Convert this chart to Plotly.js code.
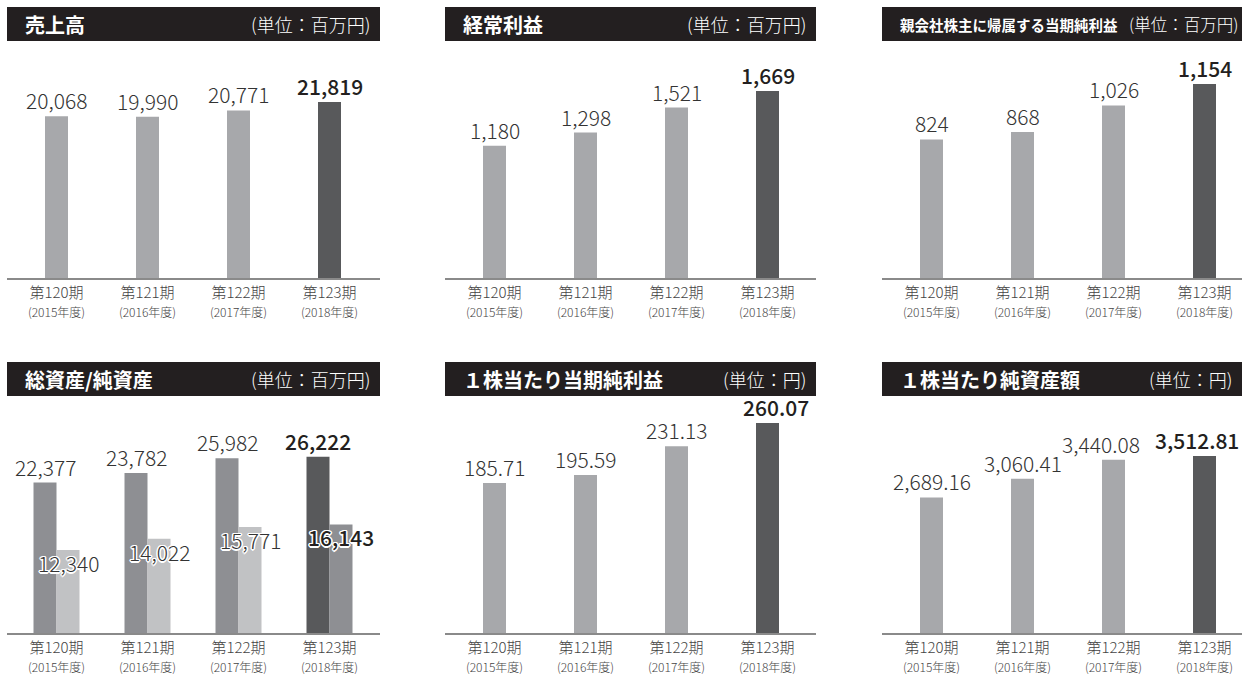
<!DOCTYPE html>
<html>
<head>
<meta charset="utf-8">
<script src="https://cdn.plot.ly/plotly-3.0.1.min.js"></script>
<style>
html,body{margin:0;padding:0;background:#fff;}
#chart{width:1242px;height:677px;}
</style>
</head>
<body>
<div id="chart"></div>
<script>
// ---- data ----
const periods = ['第120期', '第121期', '第122期', '第123期'];
const fiscalYears = ['(2015年度)', '(2016年度)', '(2017年度)', '(2018年度)'];
const sales = [20068, 19990, 20771, 21819];
const ordinaryIncome = [1180, 1298, 1521, 1669];
const netIncomeParent = [824, 868, 1026, 1154];
const totalAssets = [22377, 23782, 25982, 26222];
const netAssets = [12340, 14022, 15771, 16143];
const epsValues = [185.71, 195.59, 231.13, 260.07];
const bpsValues = [2689.16, 3060.41, 3440.08, 3512.81];

const panelTitles = ['売上高', '経常利益', '親会社株主に帰属する当期純利益', '総資産/純資産', '１株当たり当期純利益', '１株当たり純資産額'];
const panelUnits = ['(単位：百万円)', '(単位：百万円)', '(単位：百万円)', '(単位：百万円)', '(単位：円)', '(単位：円)'];

// ---- layout helpers ----
const W = 1242, H = 677;
const FONT = "'Noto Sans CJK JP', 'Noto Sans', sans-serif";
const LIGHT = '#a7a8ab', DARK = '#58595b', MID = '#8e8f93', PALE = '#c1c2c4';
const TXT = '#333333', TXTB = '#231f20';
const px = v => v / W;
const py = v => 1 - v / H;

// panel geometry in pixels
const cols = [
  {x0: 7, x1: 380, c0: 56.5},
  {x0: 445, x1: 816, c0: 494.5},
  {x0: 882, x1: 1242, c0: 931.5}
];
const rows = [
  {hTop: 7, hBot: 41, top: 48, base: 278},
  {hTop: 362, hBot: 396, top: 403, base: 633}
];
const STEP = 91;
const BARW = 23 / STEP;
// horizontal nudges (px) of value labels, per panel
const labelNudge = {4: [0, 0, 0, 8], 5: [0, 0, -13, -8]};

const fmt = (v, d) => v.toLocaleString('en-US', {minimumFractionDigits: d, maximumFractionDigits: d});
const tickText = periods.map((p, i) => p + '<br><span style="font-size:12px">' + fiscalYears[i] + '</span>');

// y-range maxima chosen so that bars match scale
const yMax = [28514, 2053, 1368, 34210, 284.8, 4564];

const data = [];
const layout = {
  width: W, height: H,
  margin: {l: 0, r: 0, t: 0, b: 0},
  paper_bgcolor: '#fff', plot_bgcolor: 'rgba(0,0,0,0)',
  showlegend: false,
  barmode: 'overlay',
  font: {family: FONT, color: TXT},
  shapes: [], annotations: []
};

function colorsFor(n, normal, last) { return Array.from({length: n}, (_, i) => i === n - 1 ? last : normal); }

for (let k = 0; k < 6; k++) {
  const col = cols[k % 3], row = rows[Math.floor(k / 3)];
  const ax = k === 0 ? '' : String(k + 1);
  const xa = 'x' + ax, ya = 'y' + ax;
  layout['xaxis' + ax] = {
    domain: [px(col.x0), px(col.x1)],
    anchor: ya,
    type: 'category',
    range: [(col.x0 - col.c0) / STEP, (col.x1 - col.c0) / STEP],
    tickmode: 'array', tickvals: periods, ticktext: tickText,
    tickfont: {family: FONT, size: 15, color: '#444', weight: 300},
    ticks: '', showgrid: false, zeroline: false,
    showline: true, linecolor: '#8a8a8a', linewidth: 1.5,
    fixedrange: true
  };
  layout['yaxis' + ax] = {
    domain: [py(row.base), py(row.top)],
    anchor: xa,
    range: [0, yMax[k]],
    showgrid: false, zeroline: false, showticklabels: false, showline: false,
    fixedrange: true
  };
  // header bar
  layout.shapes.push({type: 'rect', xref: 'paper', yref: 'paper',
    x0: px(col.x0), x1: px(Math.min(col.x1, W)), y0: py(row.hBot), y1: py(row.hTop),
    fillcolor: '#231f20', line: {width: 0}, layer: 'below'});
  const long = k === 2;
  layout.annotations.push({xref: 'paper', yref: 'paper', x: px(col.x0 + 16), y: py((row.hTop + row.hBot) / 2),
    xanchor: 'left', yanchor: 'middle', showarrow: false, text: panelTitles[k],
    font: {family: FONT, size: long ? 14.5 : 20, color: '#ffffff', weight: 700}});
  layout.annotations.push({xref: 'paper', yref: 'paper',
    x: long ? px(1240) : px(col.x1 - 8), y: py((row.hTop + row.hBot) / 2),
    xanchor: 'right', yanchor: 'middle', showarrow: false, text: panelUnits[k],
    font: {family: FONT, size: long ? 16.5 : 18, color: '#ffffff', weight: 300}});
}

function singlePanel(k, values, dec) {
  const ax = k === 0 ? '' : String(k + 1);
  data.push({type: 'bar', x: periods, y: values, xaxis: 'x' + ax, yaxis: 'y' + ax,
    width: BARW, offset: -BARW / 2,
    marker: {color: colorsFor(values.length, LIGHT, DARK), line: {width: 0}},
    hoverinfo: 'skip'});
  values.forEach((v, i) => {
    const last = i === values.length - 1;
    const shift = labelNudge[k] ? labelNudge[k][i] : 0;
    layout.annotations.push({xref: 'x' + ax, yref: 'y' + ax, x: periods[i], y: v,
      xanchor: 'center', yanchor: 'bottom', xshift: shift, yshift: -1, showarrow: false,
      text: fmt(v, dec),
      font: {family: FONT, size: 21, color: last ? TXTB : TXT, weight: last ? 500 : 300}});
  });
}

singlePanel(0, sales, 0);
singlePanel(1, ordinaryIncome, 0);
singlePanel(2, netIncomeParent, 0);
singlePanel(4, epsValues, 2);
singlePanel(5, bpsValues, 2);

// grouped panel: total / net assets
data.push({type: 'bar', x: periods, y: totalAssets, xaxis: 'x4', yaxis: 'y4',
  width: BARW, offset: -BARW,
  marker: {color: colorsFor(totalAssets.length, MID, DARK), line: {width: 0}}, hoverinfo: 'skip'});
data.push({type: 'bar', x: periods, y: netAssets, xaxis: 'x4', yaxis: 'y4',
  width: BARW, offset: 0,
  marker: {color: colorsFor(netAssets.length, PALE, MID), line: {width: 0}}, hoverinfo: 'skip'});
const outline = '-1px -1px 0 #fff, 1px -1px 0 #fff, -1px 1px 0 #fff, 1px 1px 0 #fff, 0 -1.5px 0 #fff, 0 1.5px 0 #fff, -1.5px 0 0 #fff, 1.5px 0 0 #fff';
totalAssets.forEach((v, i) => {
  const last = i === totalAssets.length - 1;
  layout.annotations.push({xref: 'x4', yref: 'y4', x: periods[i], y: v, xshift: -11.5, yshift: -1,
    xanchor: 'center', yanchor: 'bottom', showarrow: false, text: fmt(v, 0),
    font: {family: FONT, size: 21, color: last ? TXTB : TXT, weight: last ? 500 : 300}});
});
netAssets.forEach((v, i) => {
  const last = i === netAssets.length - 1;
  layout.annotations.push({xref: 'x4', yref: 'y4', x: periods[i], y: v, xshift: 11.5, yshift: -13,
    xanchor: 'center', yanchor: 'middle', showarrow: false, text: fmt(v, 0),
    font: {family: FONT, size: 21, color: last ? TXTB : TXT, weight: last ? 500 : 300, shadow: outline}});
});

Plotly.newPlot('chart', data, layout, {staticPlot: true, displayModeBar: false});
</script>
</body>
</html>
